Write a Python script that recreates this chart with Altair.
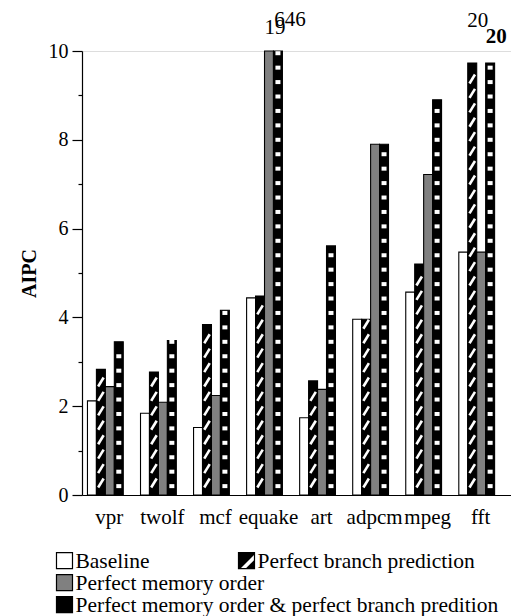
import altair as alt
import pandas as pd

# ---------------- data ----------------
categories = ["vpr", "twolf", "mcf", "equake", "art", "adpcm", "mpeg", "fft"]
series = [
    "Baseline",
    "Perfect branch prediction",
    "Perfect memory order",
    "Perfect memory order & perfect branch predition",
]
# heights as drawn (bars that run off the scale are drawn at the frame top)
baseline = [2.12, 1.84, 1.52, 4.44, 1.74, 3.96, 4.57, 5.47]
branch_pred = [2.83, 2.77, 3.84, 4.48, 2.57, 3.96, 5.20, 9.73]
mem_order = [2.44, 2.09, 2.24, 10.0, 2.38, 7.90, 7.22, 5.47]
mem_branch = [3.45, 3.48, 4.16, 10.0, 5.61, 7.90, 8.90, 9.73]

# values of bars that go off the scale
offscale_cat = ["equake", "equake", "fft", "fft"]
offscale_series = [series[2], series[3], series[1], series[3]]
offscale_text = ["19", "646", "20", "20"]

# legend layout (column, row)
legend_col = [0, 1, 0, 0]
legend_row = [0, 0, 1, 2]

y_ticks = list(range(0, 11))

# ---------------- tables ----------------
values = [baseline, branch_pred, mem_order, mem_branch]
bars = pd.DataFrame(
    [
        {"cat": c, "series": s, "v": vals[i]}
        for s, vals in zip(series, values)
        for i, c in enumerate(categories)
    ]
)

# pattern decoration inside the hatched bars
step = 0.325
stripe_rows, square_rows = [], []
for i, c in enumerate(categories):
    h = branch_pred[i]
    k = 0
    while 0.27 + k * step + 0.1 <= h:
        stripe_rows.append({"cat": c, "series": series[1], "v": 0.27 + k * step})
        k += 1
    h = mem_branch[i]
    k = 0
    while 0.2 + k * step <= h - 0.03:
        square_rows.append({"cat": c, "series": series[3], "v": 0.2 + k * step})
        k += 1
stripes = pd.DataFrame(stripe_rows)
squares = pd.DataFrame(square_rows)

legend_df = pd.DataFrame({"series": series, "col": legend_col, "row": legend_row})

FONT = "Liberation Serif"

x_enc = alt.X(
    "cat:N",
    sort=categories,
    scale=alt.Scale(paddingInner=0.325, paddingOuter=0.206, align=0.25),
    axis=alt.Axis(
        title=None,
        labelAngle=0,
        ticks=False,
        labelFontSize=21,
        labelFont=FONT,
        labelColor="black",
        labelPadding=11,
        labelOffset=4,
        domainColor="black",
        domainWidth=1.2,
    ),
)
xo_enc = alt.XOffset(
    "series:N",
    sort=series,
    scale=alt.Scale(domain=series, paddingInner=0, paddingOuter=0),
)
y_enc = alt.Y(
    "v:Q",
    scale=alt.Scale(domain=[0, 10], nice=False),
    axis=alt.Axis(
        title="AIPC",
        values=y_ticks,
        labelExpr="datum.value % 2 === 0 ? datum.label : ''",
        tickSize={"condition": {"test": "datum.value % 2 === 0", "value": 10}, "value": 4},
        tickColor="black",
        tickWidth=1.2,
        domainColor="black",
        domainWidth=1.2,
        grid=False,
        labelFontSize=20,
        labelFont=FONT,
        labelColor="black",
        labelPadding=4,
        titleFont=FONT,
        titleFontSize=20,
        titleFontWeight="bold",
        titleColor="black",
        titlePadding=9,
    ),
)
fill_enc = alt.Fill(
    "series:N",
    scale=alt.Scale(domain=series, range=["white", "black", "#808080", "black"]),
    legend=None,
)

bar_layer = (
    alt.Chart(bars)
    .mark_bar(stroke="black", strokeWidth=1.1)
    .encode(x=x_enc, xOffset=xo_enc, y=y_enc, fill=fill_enc)
)

stripe_layer = (
    alt.Chart(stripes)
    .mark_point(
        shape="M-0.55,0.9L0.55,-0.9",
        size=100,
        filled=False,
        stroke="white",
        strokeWidth=2.6,
        strokeCap="butt",
        opacity=1,
    )
    .encode(x=x_enc, xOffset=xo_enc, y=y_enc)
)

square_layer = (
    alt.Chart(squares)
    .mark_point(
        shape="M-1,-0.8L1,-0.8L1,0.8L-1,0.8Z",
        size=25,
        filled=True,
        fill="white",
        strokeWidth=0,
        opacity=1,
    )
    .encode(x=x_enc, xOffset=xo_enc, y=y_enc)
)

# labels for off-scale bars
lab_layers = []
label_style = [(6, -17, "normal"), (12, -25, "normal"), (5.5, -36, "normal"), (6, -20, "bold")]
for j in range(len(offscale_text)):
    ci = categories.index(offscale_cat[j])
    si = series.index(offscale_series[j])
    df = pd.DataFrame(
        [{"cat": offscale_cat[j], "series": offscale_series[j], "v": values[si][ci], "t": offscale_text[j]}]
    )
    dx, dy, fw = label_style[j]
    lab_layers.append(
        alt.Chart(df)
        .mark_text(
            dx=dx, dy=dy, baseline="alphabetic", align="center",
            fontSize=21, font=FONT, fontWeight=fw, color="black",
        )
        .encode(x=x_enc, xOffset=xo_enc, y=y_enc, text="t:N")
    )

main = alt.layer(bar_layer, stripe_layer, square_layer, *lab_layers)

# ---------------- legend (below the plot) ----------------
lx = alt.X("col:Q", scale=alt.Scale(domain=[0.0962, 2.4533], nice=False, zero=False), axis=None)
ly = alt.Y("row:Q", scale=alt.Scale(domain=[-23.16, -2.98], reverse=True, nice=False, zero=False), axis=None)
SQ = "M-1,-1L1,-1L1,1L-1,1Z"

leg_base = alt.Chart(legend_df)
leg_sym = leg_base.mark_point(shape=SQ, size=256, filled=True, strokeWidth=0, opacity=1).encode(
    x=lx, y=ly, fill=fill_enc
)
leg_branch = (
    leg_base.transform_filter(alt.datum.series == series[1])
    .mark_point(shape="M-0.75,1L1,-0.75L1,-0.1L-0.1,1Z", size=256, filled=True, fill="white", strokeWidth=0, opacity=1)
    .encode(x=lx, y=ly)
)
leg_both = (
    leg_base.transform_filter(alt.datum.series == series[3])
    .mark_point(shape="M-1,0L1,0L1,1L-1,1Z", size=256, filled=True, fill="black", strokeWidth=0, opacity=1)
    .encode(x=lx, y=ly)
)
leg_outline = leg_base.mark_point(
    shape=SQ, size=256, filled=False, stroke="black", strokeWidth=1.2, opacity=1
).encode(x=lx, y=ly)
leg_text = leg_base.mark_text(
    align="left", baseline="alphabetic", dx=11, dy=7, fontSize=21.5, font=FONT, color="black"
).encode(x=lx, y=ly, text="series:N")

legend = alt.layer(leg_sym, leg_branch, leg_both, leg_outline, leg_text)

chart = (
    alt.layer(main, legend)
    .resolve_scale(x="independent", y="independent")
    .properties(width=429, height=444, padding={"left": 11, "top": 1, "right": 0, "bottom": 0})
    .configure_view(stroke=None)
    .configure(font=FONT)
)

chart.save("out.html", embed_options={"renderer": "svg", "actions": False})
